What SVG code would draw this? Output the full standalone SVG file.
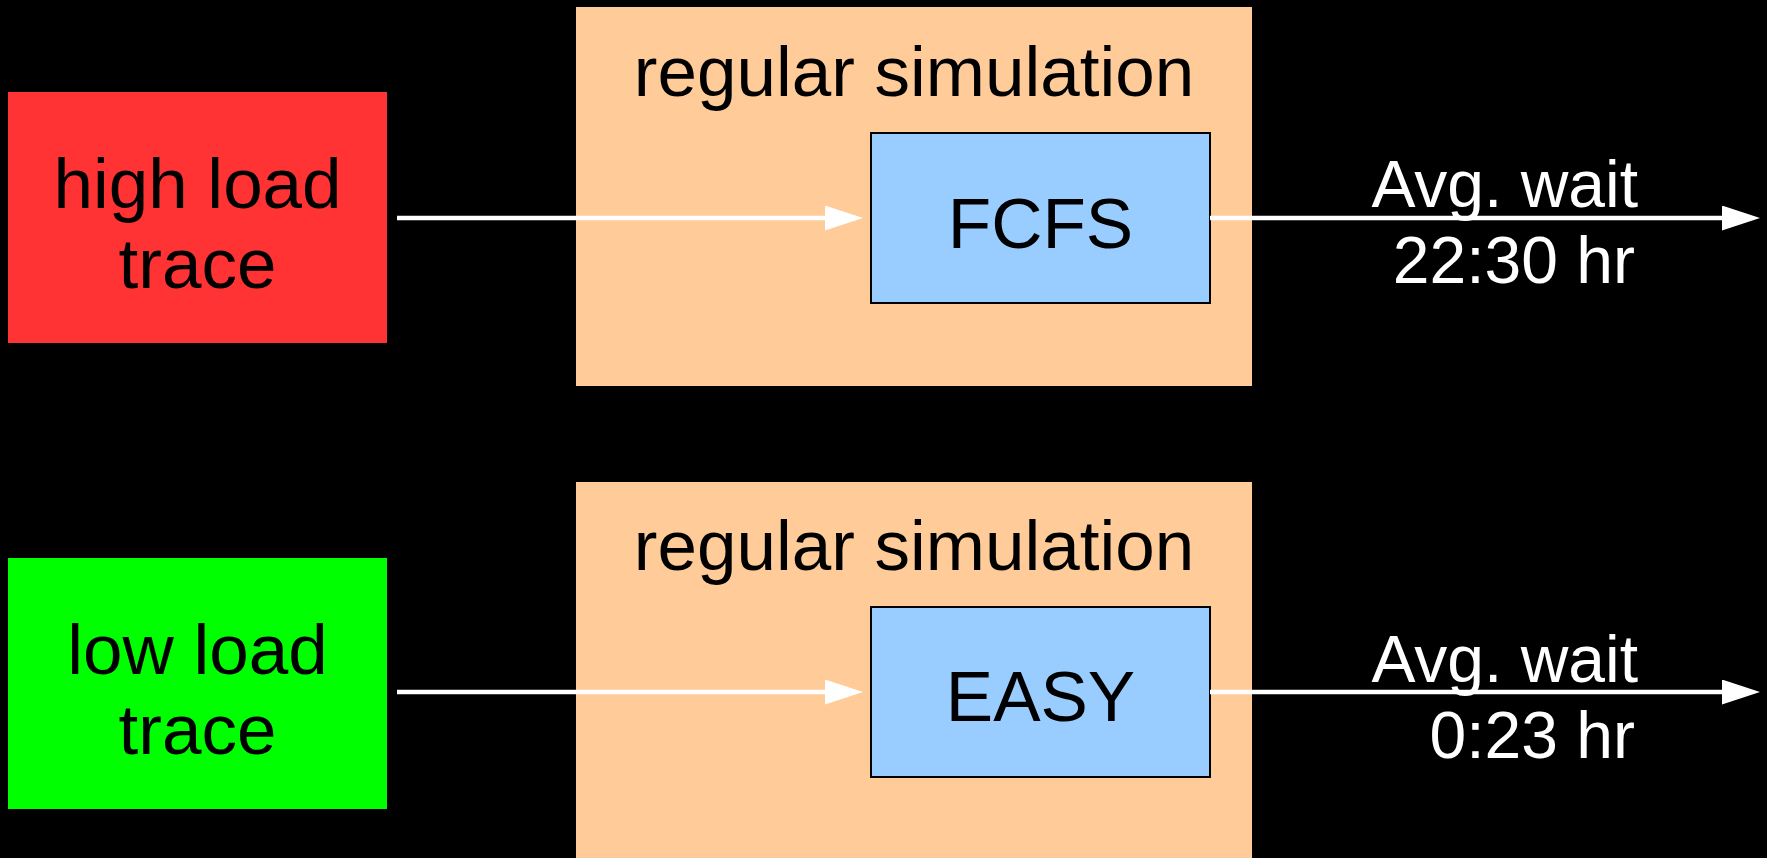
<svg xmlns="http://www.w3.org/2000/svg" width="1767" height="858" viewBox="0 0 1767 858">
<style>
text { font-family: "Liberation Sans", Arial, sans-serif; }
.t { font-size: 71px; fill: #000; text-anchor: middle; }
.w { font-size: 66px; fill: #fff; text-anchor: end; }
.sim { fill: #FFCC99; }
.alg { fill: #99CCFF; stroke: #000; stroke-width: 2; }
.conn { stroke: #fff; stroke-width: 4.5; fill: none; marker-end: url(#ah); }
</style>
<defs>
<marker id="ah" viewBox="0 0 38 25" markerWidth="38" markerHeight="25" markerUnits="userSpaceOnUse" refX="18" refY="12.5" orient="auto">
<path d="M0,0 L38,12.5 L0,25 z" fill="#fff"/>
</marker>
</defs>
<rect x="0" y="0" width="1767" height="858" fill="#000"/>
<g id="high-load">
<rect x="8" y="92" width="379" height="251" fill="#FF3333"/>
<text class="t" x="197.5" y="208">high load</text>
<text class="t" x="197.5" y="288">trace</text>
</g>
<g id="sim1">
<rect class="sim" x="576" y="7" width="676" height="379"/>
<text class="t" x="914" y="96">regular simulation</text>
</g>
<g id="fcfs">
<rect class="alg" x="871" y="133" width="339" height="170"/>
<text class="t" x="1040.5" y="248">FCFS</text>
</g>
<g id="low-load">
<rect x="8" y="558" width="379" height="251" fill="#00FF00"/>
<text class="t" x="197.5" y="674">low load</text>
<text class="t" x="197.5" y="754">trace</text>
</g>
<g id="sim2">
<rect class="sim" x="576" y="482" width="676" height="400"/>
<text class="t" x="914" y="570">regular simulation</text>
</g>
<g id="easy">
<rect class="alg" x="871" y="607" width="339" height="170"/>
<text class="t" x="1040.5" y="721">EASY</text>
</g>
<g id="connectors">
<line class="conn" x1="397" y1="218" x2="843" y2="218"/>
<line class="conn" x1="1210" y1="218" x2="1740" y2="218"/>
<line class="conn" x1="397" y1="692" x2="843" y2="692"/>
<line class="conn" x1="1210" y1="692" x2="1740" y2="692"/>
</g>
<g id="labels">
<text class="w" x="1638" y="207">Avg. wait</text>
<text class="w" x="1635" y="283">22:30 hr</text>
<text class="w" x="1638" y="682">Avg. wait</text>
<text class="w" x="1635" y="758">0:23 hr</text>
</g>
</svg>
